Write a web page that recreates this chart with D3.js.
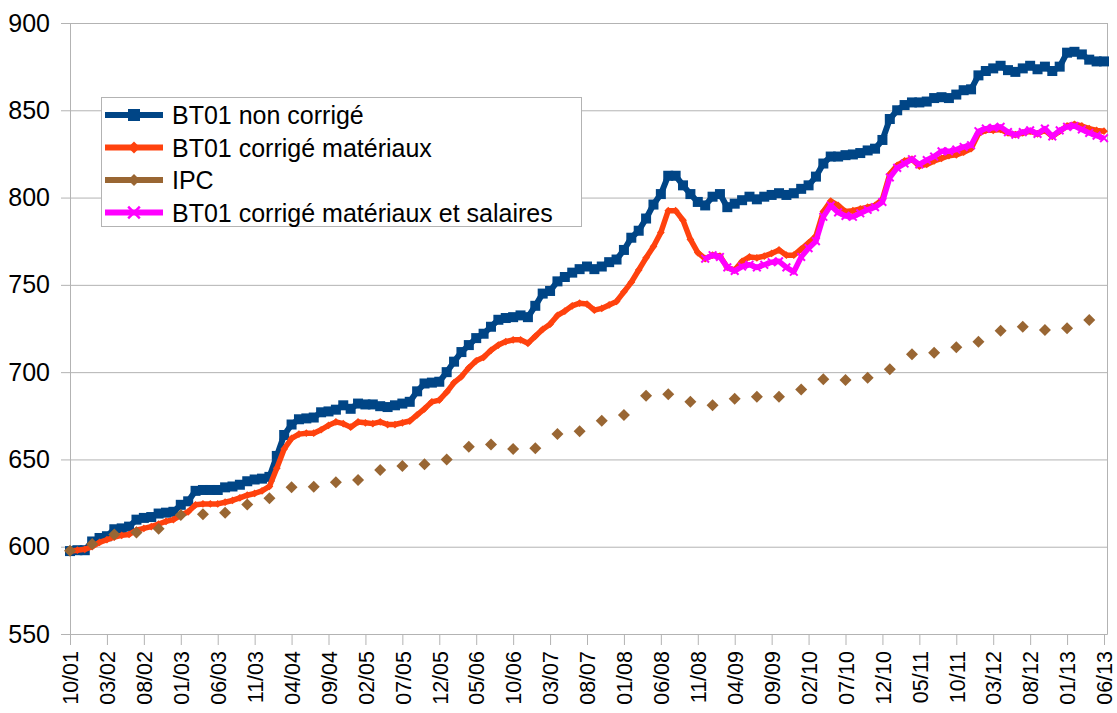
<!DOCTYPE html>
<html>
<head>
<meta charset="utf-8">
<script src="https://cdn.jsdelivr.net/npm/d3@7"></script>
<style>
  body { margin: 0; background: #fff; }
  svg { display: block; font-family: "Liberation Sans", Arial, sans-serif; }
</style>
</head>
<body>
<div id="chart"></div>
<script>
// x tick labels, one every 5 months starting 10/01
const tickLabels = ['10/01','03/02','08/02','01/03','06/03','11/03','04/04','09/04','02/05','07/05',
  '12/05','05/06','10/06','03/07','08/07','01/08','06/08','11/08','04/09','09/09','02/10','07/10',
  '12/10','05/11','10/11','03/12','08/12','01/13','06/13'];

// monthly values, month 0 = 10/01
const bt01 = [597.5,598,598,603,605,606,610,610.5,611.5,615.5,
  616.5,617,619,619.5,620,624,626,632,632.5,632.5,
  632.5,634,634.5,635.5,637.5,638.5,639,640,652,664,
  670,673,673.5,674,677,677.5,678.5,681,679,682,
  681.5,681.5,680.5,680,681,682,683,689,693.5,694,
  694.5,700,706,711.5,715.5,719.5,722,726,730,731,
  731.5,732.5,731.5,738,745,746.5,752,754.5,757,759,
  760.5,759,760.5,763,764.5,770,777,781,788,796,
  802,812.5,812.5,807,802,797.5,795.5,800.5,802,794.5,
  796.5,798.5,800.5,799,800.5,801.5,802.5,801.5,802.5,805,
  807,812,819.5,823.5,823.5,824.3,824.7,825.5,827,828,
  833,845,850,853,854.5,854.5,855,857,857.5,857,
  859,861.5,862,870,872.5,874,875.5,873,872,874,
  875.5,873.5,875,872.5,875,883,883.5,882,879,878,
  878];

const bt01Mat = [597.5,598,598.5,600,602.5,604,605.5,606.5,607,609.5,
  610.5,611.5,613,614.5,615.5,618,620,624,624.5,624.5,
  624.5,625.5,626.5,628,629.5,630.5,632,634.5,645,656,
  662,664.5,665,665,667,669.5,671.5,670.5,668.5,671.5,
  671,670.5,671.5,670,670,671,672,675.5,679,683,
  684,688.5,694,697.5,702.5,706.5,708.5,712.5,715.5,717.5,
  718.5,718.5,716.5,720.5,724.5,727.5,732.5,735,738,739.5,
  739,735.5,736.5,738.5,740.5,746,751.5,758.5,765.5,772,
  780,792.5,792.5,787,776,768.5,765,767,766.5,760,
  758.5,763.5,766,765.5,766.5,768,770,767,767,770.5,
  774,778,792,798,795.5,792,792.5,793.5,794.5,795.5,
  799,813.5,818.5,821,822,818,819,821,822.5,824,
  824.5,826,828,836.5,838.5,838.5,839,837,836,837,
  838,836.5,838.5,835,838,841,842,841,839.5,838.5,
  838];

// quarterly values, every 3 months from 10/01
const ipc = [597.7,601.5,607,608.2,610.3,618.2,618.6,619.5,624.2,627.8,
  634,634.4,636.9,638.2,643.9,646.2,647.2,650,657.3,658.6,
  656,656.4,664.5,666.1,672.2,675.4,686.5,687.3,683,681.1,
  684.8,685.9,685.9,690.1,695.9,695.5,696.8,701.6,710.2,711.1,
  714.2,717.4,723.7,726,724.1,725.1,729.8];

// monthly values starting at month 86 (12/08)
const salStart = 86;
const bt01MatSal = [765,767,766,760,758,760.5,761.5,760,761.5,763,
  763.5,760,757.5,766,771,775,789,795.5,791.5,789.5,
  789,791,793,794.5,797.5,811.5,817,819.5,822,819,
  821.5,823.5,826.5,826.5,827.5,829,830,838,839.5,840,
  840.5,837.5,836,837.5,838.5,836.5,839.5,835,838.5,840.5,
  841,839,837,835.5,834];

const yTicks = [550, 600, 650, 700, 750, 800, 850, 900];

const width = 1117, height = 713;
const plotLeft = 70, plotRight = 1107.5, plotTop = 23, plotBottom = 634;
const grey = '#b3b3b3';

const svg = d3.select('#chart').append('svg')
  .attr('width', width)
  .attr('height', height);

const x = d3.scaleLinear().domain([0, 140]).range([plotLeft, 1104]);
const y = d3.scaleLinear().domain([550, 900]).range([plotBottom, plotTop]);

// gridlines
svg.append('g')
  .attr('transform', `translate(${plotLeft},0)`)
  .call(d3.axisLeft(y).tickValues(yTicks).tickSize(-(plotRight - plotLeft)).tickFormat(''))
  .call(g => g.select('.domain').remove())
  .selectAll('line').attr('stroke', grey);

// right frame
svg.append('line')
  .attr('x1', plotRight).attr('x2', plotRight)
  .attr('y1', plotTop).attr('y2', plotBottom)
  .attr('stroke', grey);

// y axis
const yAxis = svg.append('g')
  .attr('transform', `translate(${plotLeft},0)`)
  .call(d3.axisLeft(y).tickValues(yTicks).tickSize(9).tickPadding(11).tickSizeOuter(0));
yAxis.select('.domain').attr('stroke', grey);
yAxis.selectAll('line').attr('stroke', grey);
yAxis.selectAll('text').attr('font-size', '25px').attr('fill', '#000');

// x axis
const xAxis = svg.append('g')
  .attr('transform', `translate(0,${plotBottom})`)
  .call(d3.axisBottom(x)
    .tickValues(tickLabels.map((d, i) => i * 5))
    .tickFormat((d, i) => tickLabels[i])
    .tickSize(11).tickSizeOuter(0));
xAxis.select('.domain').attr('stroke', grey).attr('d', `M${plotLeft},0.5H${plotRight}`);
xAxis.selectAll('line').attr('stroke', grey);
xAxis.selectAll('text')
  .attr('font-size', '21.5px')
  .attr('fill', '#000')
  .attr('transform', 'rotate(-90)')
  .attr('text-anchor', 'end')
  .attr('x', -17)
  .attr('y', 0)
  .attr('dy', '0.36em');

const line = d3.line().x(d => x(d.m)).y(d => y(d.v));

const blueData = bt01.map((v, i) => ({ m: i, v }));
const orangeData = bt01Mat.map((v, i) => ({ m: i, v }));
const ipcData = ipc.map((v, i) => ({ m: i * 3, v }));
const pinkData = bt01MatSal.map((v, i) => ({ m: i + salStart, v }));

const blue = '#004586', orange = '#ff420e', brown = '#996633', pink = '#ff00ff';

// BT01 non corrigé
svg.append('path').datum(blueData)
  .attr('d', line).attr('fill', 'none')
  .attr('stroke', blue).attr('stroke-width', 6).attr('stroke-linejoin', 'round');
svg.append('g').selectAll('rect').data(blueData).enter().append('rect')
  .attr('x', d => x(d.m) - 5).attr('y', d => y(d.v) - 5)
  .attr('width', 10).attr('height', 10).attr('fill', blue);

// BT01 corrigé matériaux
svg.append('path').datum(orangeData)
  .attr('d', line).attr('fill', 'none')
  .attr('stroke', orange).attr('stroke-width', 5.5).attr('stroke-linejoin', 'round');
const diamondSmall = d3.symbol(d3.symbolSquare, 30);
svg.append('g').selectAll('path').data(orangeData).enter().append('path')
  .attr('d', diamondSmall)
  .attr('transform', d => `translate(${x(d.m)},${y(d.v)}) rotate(45)`)
  .attr('fill', orange);

// IPC (markers only)
const diamond = d3.symbol(d3.symbolSquare, 72);
svg.append('g').selectAll('path').data(ipcData).enter().append('path')
  .attr('d', diamond)
  .attr('transform', d => `translate(${x(d.m)},${y(d.v)}) rotate(45)`)
  .attr('fill', brown);

// BT01 corrigé matériaux et salaires
svg.append('path').datum(pinkData)
  .attr('d', line).attr('fill', 'none')
  .attr('stroke', pink).attr('stroke-width', 5.5).attr('stroke-linejoin', 'round');
const cross = d3.symbol(d3.symbolTimes, 40);
svg.append('g').selectAll('path').data(pinkData).enter().append('path')
  .attr('d', cross)
  .attr('transform', d => `translate(${x(d.m)},${y(d.v)})`)
  .attr('fill', 'none').attr('stroke', pink).attr('stroke-width', 2);

// legend
const legendItems = [
  { name: 'BT01 non corrigé', color: blue, mark: 'square' },
  { name: 'BT01 corrigé matériaux', color: orange, mark: 'diamond' },
  { name: 'IPC', color: brown, mark: 'diamond' },
  { name: 'BT01 corrigé matériaux et salaires', color: pink, mark: 'cross' }
];

const legend = svg.append('g');
legend.append('rect')
  .attr('x', 101.5).attr('y', 97.5)
  .attr('width', 480).attr('height', 129)
  .attr('fill', '#fff').attr('stroke', grey);

const rows = legend.selectAll('g.item').data(legendItems).enter().append('g')
  .attr('class', 'item')
  .attr('transform', (d, i) => `translate(0,${115 + i * 32.5})`);

rows.append('line')
  .attr('x1', 105).attr('x2', 163)
  .attr('stroke', d => d.color).attr('stroke-width', 6);

rows.each(function(d) {
  const g = d3.select(this);
  if (d.mark === 'square') {
    g.append('rect').attr('x', 128).attr('y', -6).attr('width', 12).attr('height', 12).attr('fill', d.color);
  } else if (d.mark === 'diamond') {
    g.append('path').attr('d', d3.symbol(d3.symbolSquare, 72)())
      .attr('transform', 'translate(134,0) rotate(45)').attr('fill', d.color);
  } else {
    g.append('path').attr('d', d3.symbol(d3.symbolTimes, 90)())
      .attr('transform', 'translate(134,0)')
      .attr('fill', 'none').attr('stroke', d.color).attr('stroke-width', 2.5);
  }
});

rows.append('text')
  .attr('x', 172).attr('dy', '0.36em')
  .attr('font-size', '25px').attr('fill', '#000')
  .text(d => d.name);
</script>
</body>
</html>
